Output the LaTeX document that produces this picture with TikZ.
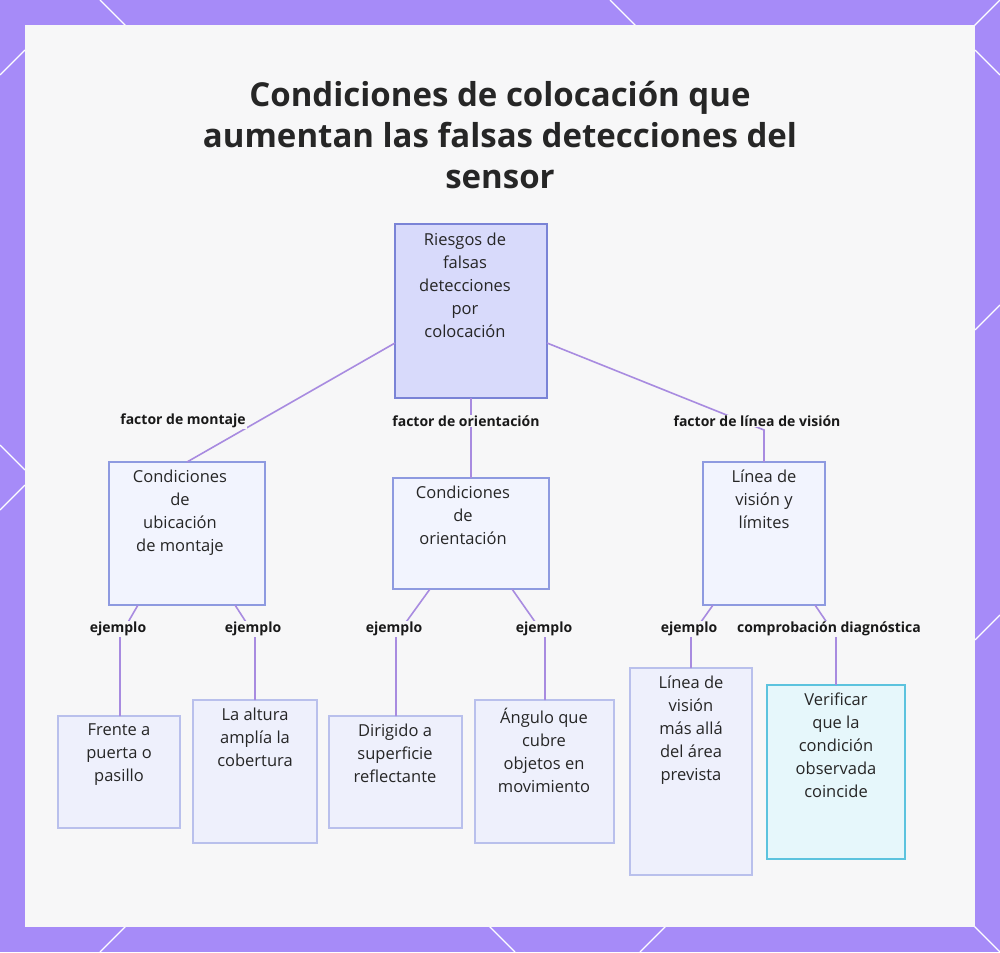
\documentclass[tikz,border=0pt]{standalone}
\usepackage{fontspec}
\setmainfont{Open Sans}
\begin{document}
\definecolor{frame}{HTML}{A68BF8}
\definecolor{panel}{HTML}{F7F7F8}
\definecolor{edge}{HTML}{A88BE0}
\definecolor{rootf}{HTML}{D8DAFB}
\definecolor{rootb}{HTML}{7A83D6}
\definecolor{midf}{HTML}{F2F4FE}
\definecolor{midb}{HTML}{8E9AE0}
\definecolor{leaff}{HTML}{EEF0FC}
\definecolor{leafb}{HTML}{B9C0EC}
\definecolor{cyf}{HTML}{E6F7FB}
\definecolor{cyb}{HTML}{5CC3DE}
\begin{tikzpicture}[x=1pt,y=-1pt,
  box/.style={draw=midb,fill=midf,line width=1.4pt},
  txt/.style={anchor=north,align=center,font=\fontsize{16.5}{23}\selectfont,text=black!85,inner sep=0pt},
  lab/.style={font=\bfseries\fontsize{14}{16}\selectfont,text=black!90,inner sep=1pt},
  con/.style={draw=edge,line width=1.6pt}]
\useasboundingbox (0,0) rectangle (1000,952);
\fill[frame] (0,0) rectangle (1000,952);
\foreach \a/\b/\c/\d in {100/0/135/35, 610/0/645/35, 965/35/1000/0, 0/445/25/470, 0/510/25/485, 975/330/1000/305, 975/640/1000/615, 100/952/135/917, 480/917/515/952, 640/952/675/917, 965/917/1000/952, 0/75/25/50, 975/50/1000/75}
  \draw[white,line width=1.2pt] (\a,\b) -- (\c,\d);
\fill[panel] (25,25) rectangle (975,927);
\node[align=center,font=\bfseries\fontsize{33}{41}\selectfont,text=black!85] (title) at (500,135)
  {Condiciones de colocación que\\aumentan las falsas detecciones del\\sensor};
% boxes
\coordinate (r1) at (395,224); \coordinate (r2) at (547,398);
\draw[draw=rootb,fill=rootf,line width=1.4pt] (r1) rectangle (r2);
\node[txt] (root) at (465,233) {Riesgos de\\falsas\\detecciones\\por\\colocación};
\draw[box] (109,462) rectangle (265,605);
\node[txt] (m1) at (180,470) {Condiciones\\de\\ubicación\\de montaje};
\draw[box] (393,478) rectangle (549,589);
\node[txt] (m2) at (463,486) {Condiciones\\de\\orientación};
\draw[box] (703,462) rectangle (825,605);
\node[txt] (m3) at (764,470) {Línea de\\visión y\\límites};
\tikzset{leaf/.style={draw=leafb,fill=leaff,line width=1.2pt}}
\draw[leaf] (58,716) rectangle (180,828);
\node[txt] (l1) at (119,724) {Frente a\\puerta o\\pasillo};
\draw[leaf] (193,700) rectangle (317,843);
\node[txt] (l2) at (255,708) {La altura\\amplía la\\cobertura};
\draw[leaf] (329,716) rectangle (462,828);
\node[txt] (l3) at (395,724) {Dirigido a\\superficie\\reflectante};
\draw[leaf] (475,700) rectangle (614,843);
\node[txt] (l4) at (544,708) {Ángulo que\\cubre\\objetos en\\movimiento};
\draw[leaf] (630,668) rectangle (752,875);
\node[txt] (l5) at (691,676) {Línea de\\visión\\más allá\\del área\\prevista};
\draw[draw=cyb,fill=cyf,line width=1.4pt] (767,685) rectangle (905,859);
\node[txt] (l6) at (836,693) {Verificar\\que la\\condición\\observada\\coincide};
% connectors
\coordinate (e1) at (395,343); \coordinate (m1t) at (187,462);
\draw[con] (e1) -- (m1t);
\draw[con] (471,398) -- (471,478);
\draw[con] (547,343) -- (764,430) -- (764,462);
\draw[con] (138,605) -- (120,636) -- (120,716);
\draw[con] (235,605) -- (255,636) -- (255,700);
\draw[con] (430,589) -- (396,636) -- (396,716);
\draw[con] (512,589) -- (545,636) -- (545,700);
\draw[con] (713,605) -- (691,636) -- (691,668);
\draw[con] (815,605) -- (836,636) -- (836,685);
% labels
\node[lab,fill=panel] at (183,421) {factor de montaje};
\node[lab,fill=panel] at (466,421) {factor de orientación};
\node[lab,fill=panel] at (757,421) {factor de línea de visión};
\node[lab,fill=panel] at (118,629) {ejemplo};
\node[lab,fill=panel] at (253,629) {ejemplo};
\node[lab,fill=panel] at (394,629) {ejemplo};
\node[lab,fill=panel] at (544,629) {ejemplo};
\node[lab,fill=panel] at (689,629) {ejemplo};
\node[lab,fill=panel] at (829,629) {comprobación diagnóstica};
\end{tikzpicture}
\end{document}
